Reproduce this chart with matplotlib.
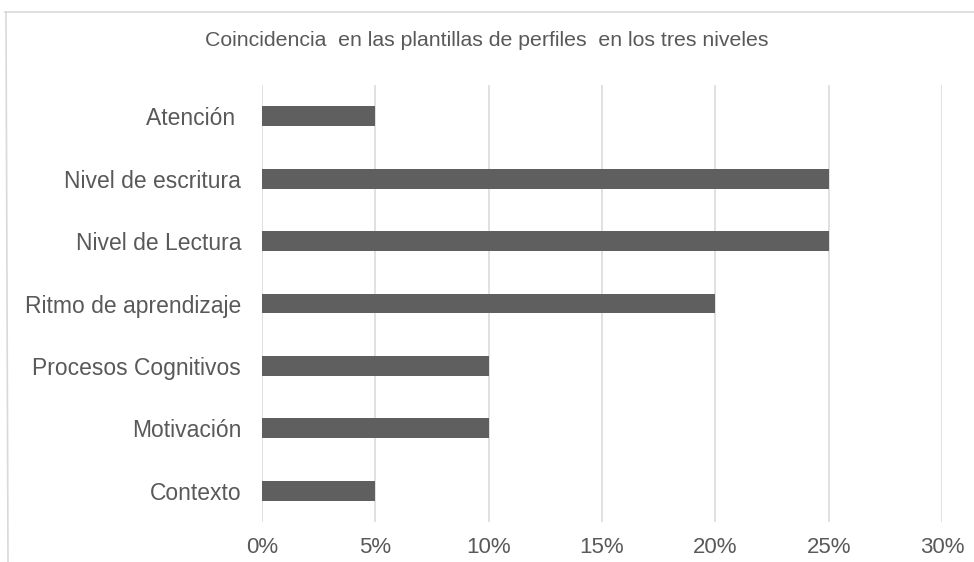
import matplotlib
matplotlib.use("Agg")
import matplotlib.pyplot as plt
from matplotlib.lines import Line2D
from matplotlib.ticker import FuncFormatter

categories = ["Atención ", "Nivel de escritura", "Nivel de Lectura", "Ritmo de aprendizaje",
              "Procesos Cognitivos", "Motivación", "Contexto"]
values = [5, 25, 25, 20, 10, 10, 5]
xticks = [0, 5, 10, 15, 20, 25, 30]
title = "Coincidencia  en las plantillas de perfiles  en los tres niveles"

plt.rcParams['font.family'] = ['Liberation Sans', 'DejaVu Sans']
txt = '#595959'

W, H = 974, 562
fig = plt.figure(figsize=(W/100, H/100), dpi=100)
ax = fig.add_axes([262/W, 1-522/H, (942-262)/W, (522-85)/H])

ypos = list(range(len(categories)))[::-1]
ax.barh(ypos, values, height=0.32, color='#5f5f5f', zorder=3)
ax.set_ylim(-0.5, len(categories)-0.5)
ax.set_xlim(0, 30)
ax.set_xticks(xticks)
ax.xaxis.set_major_formatter(FuncFormatter(lambda v, p: f"{int(v)}%"))
ax.set_yticks(ypos)
ax.set_yticklabels(categories)
ax.tick_params(axis='both', length=0, labelsize=16.5, colors=txt)
ax.tick_params(axis='x', pad=11, labelsize=16)
ax.tick_params(axis='y', pad=15)
for s in ax.spines.values():
    s.set_visible(False)
ax.grid(axis='x', color='#d9d9d9', linewidth=1.1, zorder=0)

fig.text(487/W, 1-41/H, title, ha='center', va='center', fontsize=15.3, color=txt)

# outer chart border
fig.add_artist(Line2D([5/W, 1], [1-12/H, 1-12/H], color='#d9d9d9', lw=1.2, transform=fig.transFigure))
fig.add_artist(Line2D([6/W, 8/W], [1-12/H, 0], color='#d9d9d9', lw=1.2, transform=fig.transFigure))

fig.savefig("out.png", dpi=100)
